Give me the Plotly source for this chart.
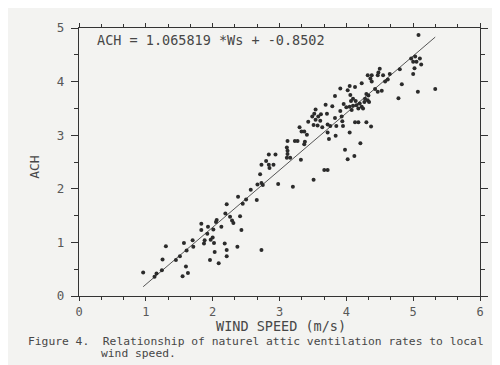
import plotly.graph_objects as go

# Wind speed (m/s) and air changes per hour
ws = [0.96, 1.13, 1.16, 1.24, 1.25, 1.30, 1.45, 1.51, 1.55, 1.60, 1.63, 1.57, 1.61, 1.70, 1.71,
      1.83, 1.83, 1.88, 1.87, 1.93, 1.92, 1.97, 2.01, 2.00, 2.02, 1.96, 2.03, 2.06, 2.05, 2.09,
      2.13, 2.18, 2.21, 2.21, 2.19, 2.21, 2.26, 2.29, 2.31, 2.37, 2.41, 2.43, 2.38, 2.45, 2.50,
      2.57, 2.66, 2.67, 2.73, 2.75, 2.71, 2.73, 2.80, 2.98, 3.20, 2.73, 2.85, 2.84, 2.94, 2.91,
      2.84, 3.12, 3.11, 3.12, 3.12, 3.16, 3.11, 3.32, 3.23, 3.27, 3.38, 3.37, 3.30, 3.33, 3.37,
      3.41, 3.43, 3.49, 3.51, 3.54, 3.52, 3.54, 3.57, 3.58, 3.61, 3.62, 3.64, 3.71, 3.69, 3.72,
      3.76, 3.72, 3.74, 3.83, 3.79, 3.83, 3.85, 3.84, 3.94, 3.95, 4.13, 4.18, 4.30, 4.37, 4.05,
      4.21, 3.98, 4.12, 4.02, 3.72, 3.67, 3.51, 5.08, 4.97, 5.03, 5.10, 5.05, 5.00, 5.12, 5.02,
      5.00, 5.07, 5.33, 4.83, 4.78, 4.80, 4.65, 4.62, 4.58, 4.50, 4.48, 4.47, 4.55, 4.38, 4.36,
      4.38, 4.32, 4.23, 4.43, 4.47, 4.53, 4.13, 4.05, 4.02, 3.91, 4.06, 4.10, 4.07, 4.14, 4.33,
      4.30, 4.28, 4.32, 4.27, 4.34, 3.96, 4.00, 4.05, 4.10, 4.15, 4.08, 4.18, 4.23, 4.20, 4.25,
      3.93, 3.91]
ach = [0.44, 0.36, 0.42, 0.48, 0.68, 0.93, 0.67, 0.74, 0.37, 0.55, 0.43, 0.99, 0.85, 1.04, 0.92,
       1.35, 1.23, 1.04, 0.98, 1.29, 1.16, 1.05, 1.24, 1.09, 0.99, 0.67, 0.82, 1.42, 1.38, 0.61,
       1.29, 0.98, 0.86, 0.74, 1.54, 1.71, 1.48, 1.41, 1.36, 0.92, 1.49, 1.23, 1.85, 1.72, 1.80,
       1.98, 1.79, 2.08, 2.11, 2.07, 2.27, 2.45, 2.52, 2.09, 2.04, 0.86, 2.39, 2.64, 2.64, 2.45,
       2.45, 2.89, 2.77, 2.71, 2.65, 2.58, 2.58, 2.54, 2.89, 2.89, 2.88, 2.83, 3.15, 3.07, 3.07,
       3.01, 3.25, 3.35, 3.19, 3.48, 3.40, 3.29, 3.18, 3.35, 3.27, 3.39, 3.15, 3.40, 3.57, 3.20,
       3.17, 3.05, 2.93, 3.73, 3.54, 3.32, 3.17, 2.99, 3.26, 3.17, 3.24, 3.24, 3.24, 3.16, 3.05,
       2.85, 2.73, 2.61, 2.55, 2.35, 2.35, 2.17, 4.87, 4.43, 4.47, 4.43, 4.37, 4.37, 4.32, 4.25,
       4.14, 3.81, 3.86, 3.95, 3.69, 4.23, 4.14, 4.04, 4.00, 4.24, 4.17, 4.12, 4.12, 4.12, 4.06,
       4.00, 4.12, 3.97, 3.86, 3.81, 3.83, 3.90, 3.92, 3.84, 3.87, 3.75, 3.68, 3.64, 3.64, 3.74,
       3.77, 3.68, 3.65, 3.62, 3.62, 3.58, 3.52, 3.53, 3.55, 3.56, 3.47, 3.50, 3.53, 3.59, 3.50,
       3.35, 3.45]

slope = 1.065819
intercept = -0.8502
equation_text = "ACH = 1.065819 *Ws + -0.8502"
x_title = "WIND SPEED (m/s)"
y_title = "ACH"
caption_line1 = "Figure 4.  Relationship of naturel attic ventilation rates to local"
caption_line2 = "wind speed."

x_ticks = [0, 1, 2, 3, 4, 5, 6]
y_ticks = [0, 1, 2, 3, 4, 5]

fit_x = [min(ws), max(ws)]
fit_y = [slope * v + intercept for v in fit_x]

INK = "#2b2b2b"
TXT = "#474747"
BG = "#f3f3f1"
FONT = "DejaVu Sans Mono"

fig = go.Figure()
fig.add_trace(go.Scatter(x=fit_x, y=fit_y, mode="lines",
                         line=dict(color="#555555", width=1), hoverinfo="skip"))
fig.add_trace(go.Scatter(x=ws, y=ach, mode="markers",
                         marker=dict(size=4, color=INK, symbol="circle")))

axis_common = dict(
    showline=True, linecolor="#333333", linewidth=1.2, mirror="allticks",
    ticks="outside", tickwidth=1, tickcolor="#333333",
    showgrid=False, zeroline=False,
)

fig.update_xaxes(range=[0, 6], tickvals=x_ticks, ticktext=[str(v) for v in x_ticks],
                 ticklen=4, tickfont=dict(family=FONT, size=12, color="#585858"),
                 minor=dict(dtick=1/3, tick0=0, ticks="outside", ticklen=3, tickcolor="#333333"),
                 **axis_common)
fig.update_yaxes(range=[0, 5], tickvals=y_ticks, ticktext=[str(v) for v in y_ticks],
                 ticklen=7, tickfont=dict(family=FONT, size=12.5, color="#585858"),
                 minor=dict(dtick=0.5, tick0=0, ticks="outside", ticklen=4, tickcolor="#333333"),
                 ticklabelstandoff=4, **axis_common)

# page body carries an 8px default margin, so the figure is 8px smaller each way
fig.update_layout(
    width=492, height=357,
    margin=dict(l=71, r=15, t=13, b=69),
    paper_bgcolor=BG, plot_bgcolor=BG,
    showlegend=False,
    annotations=[
        dict(text=equation_text, xref="paper", yref="paper", x=0.039, y=0.956,
             xanchor="left", yanchor="middle", showarrow=False,
             font=dict(family=FONT, size=13.5, color=TXT)),
        dict(text=x_title, xref="paper", yref="paper", x=0.504, y=-0.112,
             xanchor="center", yanchor="middle", showarrow=False,
             font=dict(family=FONT, size=13.5, color=TXT)),
        dict(text=y_title, xref="paper", yref="paper", x=-0.111, y=0.48, textangle=-90,
             xanchor="center", yanchor="middle", showarrow=False,
             font=dict(family=FONT, size=13, color=TXT)),
        dict(text=caption_line1, xref="paper", yref="paper", x=-0.133, y=-0.168,
             xanchor="left", yanchor="middle", showarrow=False,
             font=dict(family=FONT, size=11.3, color=TXT)),
        dict(text=caption_line2, xref="paper", yref="paper", x=0.049, y=-0.216,
             xanchor="left", yanchor="middle", showarrow=False,
             font=dict(family=FONT, size=11.3, color=TXT)),
    ],
)

fig.write_html("out.html")
